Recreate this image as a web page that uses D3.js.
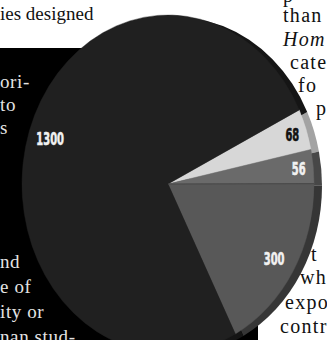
<!DOCTYPE html>
<html>
<head>
<meta charset="utf-8">
<script src="https://cdn.jsdelivr.net/npm/d3@7/dist/d3.min.js"></script>
<style>
  html, body { margin: 0; padding: 0; background: #fff; }
  svg { display: block; }
</style>
</head>
<body>
<script>
// Slice values, clockwise from the upper right
const sliceValues = [68, 56, 300, 1300];
const sliceLabels = ["68", "56", "300", "1300"];
const topColors   = ["#d7d7d7", "#6a6a6a", "#585858", "#202020"];
const sideColors  = ["#a3a3a3", "#474747", "#363636", "#151515"];
const labelColors = ["#111111", "#f2f2f2", "#f2f2f2", "#f2f2f2"];

// Body text running around the figure
const leftBoxLines  = [["ori-", 88], ["to", 111], ["s", 134], ["nd", 268], ["e of", 293], ["ity or", 318], ["nan stud-", 343]];
const rightLines    = [["p", 2, 283, false], ["than", 22, 283, false], ["Hom", 46, 283, true],
                       ["cate", 69, 290, false], ["fo", 92, 298, false], ["p", 115, 316, false],
                       ["t", 261, 311, false], ["wh", 284, 300, false], ["expo", 309, 285, false], ["contr", 333, 280, false]];

const W = 327, H = 340;
const svg = d3.select("body").append("svg").attr("width", W).attr("height", H);

svg.append("rect").attr("width", W).attr("height", H).attr("fill", "#fff");
// dark panel behind the figure
svg.append("rect").attr("x", 0).attr("y", 48).attr("width", 258).attr("height", H - 48).attr("fill", "#000");

const serif = "'Liberation Serif', 'DejaVu Serif', serif";

svg.append("text").attr("x", 0).attr("y", 20)
  .attr("font-family", serif).attr("font-size", 19).attr("fill", "#111")
  .text("ies designed");

svg.selectAll("text.lbox").data(leftBoxLines).join("text")
  .attr("class", "lbox")
  .attr("x", 0).attr("y", d => d[1])
  .attr("font-family", serif).attr("font-size", 19).attr("fill", "#e4e4e4")
  .attr("letter-spacing", 0.6)
  .text(d => d[0]);

svg.selectAll("text.rcol").data(rightLines).join("text")
  .attr("class", "rcol")
  .attr("x", d => d[2]).attr("y", d => d[1])
  .attr("font-family", serif).attr("font-size", 20).attr("fill", "#111")
  .attr("font-style", d => d[3] ? "italic" : "normal")
  .attr("letter-spacing", 1.3)
  .text(d => d[0]);

// Pie: slightly tall ellipse with a visible side on the right
const cx = 168, cy = 184, rx = 146, ry = 169;
const k = ry / rx;
const start = 64 * Math.PI / 180;

const pie = d3.pie().sort(null).startAngle(start).endAngle(start + 2 * Math.PI);
const arcs = pie(sliceValues);
const arc = d3.arc().innerRadius(0).outerRadius(rx);

const sideG = svg.append("g").attr("transform", `translate(${cx + 8},${cy + 2}) scale(1,${k})`);
sideG.selectAll("path").data(arcs).join("path")
  .attr("d", arc).attr("fill", (d, i) => sideColors[i]);

const faceG = svg.append("g").attr("transform", `translate(${cx},${cy}) scale(1,${k})`);
faceG.selectAll("path").data(arcs).join("path")
  .attr("d", arc).attr("fill", (d, i) => topColors[i])
  .attr("stroke", (d, i) => topColors[i]).attr("stroke-width", 0.4);

// thin seam where the two mid-grey slices meet
faceG.append("line")
  .attr("x1", 0).attr("y1", 0)
  .attr("x2", rx * Math.sin(arcs[2].startAngle)).attr("y2", -rx * Math.cos(arcs[2].startAngle))
  .attr("stroke", "#444").attr("stroke-width", 0.8);

// value labels near the rim
const labelPos = d => {
  const a = (d.startAngle + d.endAngle) / 2;
  const span = d.endAngle - d.startAngle;
  const r = rx * (span < 0.5 ? 0.9 : 0.85);
  return [cx + r * Math.sin(a), cy - r * Math.cos(a) * k];
};

svg.selectAll("text.val").data(arcs).join("text")
  .attr("class", "val")
  .attr("x", d => labelPos(d)[0])
  .attr("y", d => labelPos(d)[1])
  .attr("dy", "0.36em")
  .attr("text-anchor", "middle")
  .attr("font-family", "'Liberation Sans Narrow', 'DejaVu Sans Condensed', 'Liberation Sans', sans-serif")
  .attr("font-weight", "bold")
  .attr("font-size", 18)
  .attr("textLength", (d, i) => sliceLabels[i].length * 6.9)
  .attr("lengthAdjust", "spacingAndGlyphs")
  .attr("fill", (d, i) => labelColors[i])
  .attr("stroke", (d, i) => labelColors[i])
  .attr("stroke-width", 0.6)
  .text((d, i) => sliceLabels[i]);
</script>
</body>
</html>
